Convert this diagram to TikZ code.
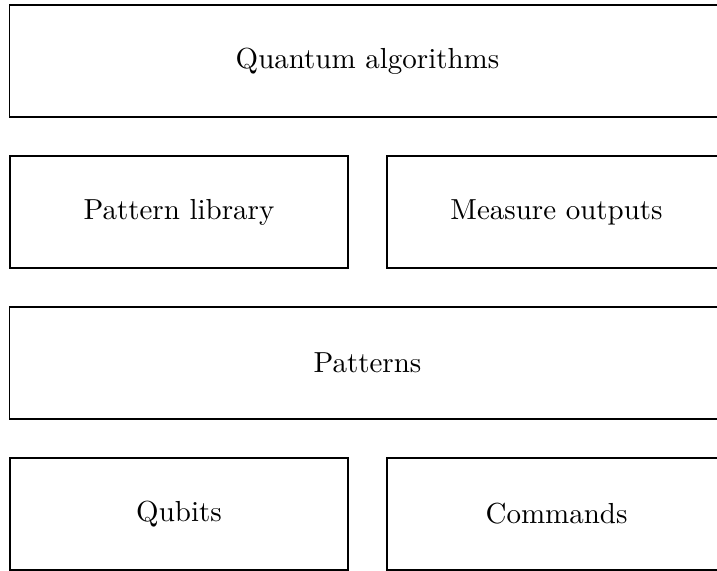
\documentclass[tikz,border=0pt]{standalone}
\begin{document}
\begin{tikzpicture}[x=0.345pt,y=-0.345pt,
  blk/.style={draw,line width=0.6pt,rectangle,inner sep=0pt,anchor=center,minimum height=112*0.345pt}]
\clip (0,0) rectangle (717,570);
\node[blk,minimum width=716*0.345pt] (qa) at (367.5,61) {Quantum algorithms};
\node[blk,minimum width=338*0.345pt] (pl) at (179,212) {Pattern library};
\node[blk,minimum width=339*0.345pt] (mo) at (556.5,212) {Measure outputs};
\node[blk,minimum width=716*0.345pt] (pa) at (367.5,363) {Patterns};
\node[blk,minimum width=338*0.345pt] (qb) at (179,514) {Qubits};
\node[blk,minimum width=339*0.345pt] (cm) at (556.5,514) {Commands};
\end{tikzpicture}
\end{document}
